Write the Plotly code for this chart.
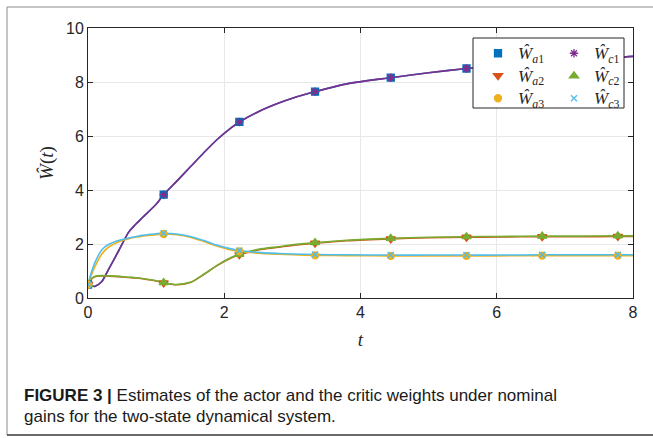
import plotly.graph_objects as go

# ---- data ----
t = [0, 0.05, 0.1, 0.2, 0.3, 0.45, 0.6, 0.7, 0.8, 1.0, 1.111, 1.3, 1.5, 1.7, 1.9, 2.1, 2.222,
     2.5, 2.8, 3.0, 3.333, 3.8, 4.444, 5.0, 5.556, 6.0, 6.667, 7.2, 7.778, 8.0]

Wa1 = [0.5, 0.45, 0.43, 0.6, 1.05, 1.75, 2.45, 2.73, 2.98, 3.47, 3.83, 4.32, 4.85, 5.38, 5.88, 6.3, 6.52,
       6.9, 7.22, 7.4, 7.64, 7.93, 8.16, 8.34, 8.5, 8.6, 8.73, 8.83, 8.91, 8.95]
Wc1 = [0.5, 0.45, 0.43, 0.6, 1.05, 1.75, 2.45, 2.73, 2.98, 3.47, 3.83, 4.32, 4.85, 5.38, 5.88, 6.3, 6.52,
       6.9, 7.22, 7.4, 7.64, 7.93, 8.16, 8.34, 8.5, 8.6, 8.73, 8.83, 8.91, 8.95]

Wa2 = [0.5, 0.7, 0.79, 0.82, 0.81, 0.79, 0.76, 0.74, 0.71, 0.63, 0.56, 0.49, 0.57, 0.87, 1.21, 1.48, 1.6,
       1.78, 1.88, 1.95, 2.03, 2.12, 2.19, 2.23, 2.25, 2.26, 2.27, 2.27, 2.28, 2.28]
Wc2 = [0.5, 0.72, 0.8, 0.83, 0.82, 0.8, 0.77, 0.75, 0.72, 0.64, 0.57, 0.5, 0.58, 0.88, 1.22, 1.5, 1.62,
       1.8, 1.9, 1.97, 2.05, 2.14, 2.21, 2.25, 2.27, 2.28, 2.29, 2.29, 2.3, 2.3]

Wa3 = [0.5, 0.85, 1.15, 1.62, 1.88, 2.08, 2.2, 2.25, 2.29, 2.34, 2.37, 2.34, 2.25, 2.09, 1.92, 1.78, 1.73,
       1.66, 1.62, 1.6, 1.58, 1.57, 1.56, 1.56, 1.56, 1.56, 1.57, 1.57, 1.57, 1.57]
Wc3 = [0.5, 0.95, 1.3, 1.78, 1.98, 2.13, 2.22, 2.27, 2.32, 2.38, 2.4, 2.37, 2.28, 2.13, 1.95, 1.82, 1.76,
       1.69, 1.65, 1.63, 1.61, 1.6, 1.59, 1.59, 1.59, 1.59, 1.6, 1.6, 1.6, 1.6]

marker_t = [0, 1.111, 2.222, 3.333, 4.444, 5.556, 6.667, 7.778]

names = ["<i>Ŵ</i><sub><i>a</i>1</sub>", "<i>Ŵ</i><sub><i>a</i>2</sub>", "<i>Ŵ</i><sub><i>a</i>3</sub>",
         "<i>Ŵ</i><sub><i>c</i>1</sub>", "<i>Ŵ</i><sub><i>c</i>2</sub>", "<i>Ŵ</i><sub><i>c</i>3</sub>"]

x_ticks = [0, 2, 4, 6, 8]
y_ticks = [0, 2, 4, 6, 8, 10]

# ---- styling ----
series = [
    (Wa1, names[0], "#0072BD", "square", 7, "legend"),
    (Wa2, names[1], "#D95319", "triangle-down", 8, "legend"),
    (Wa3, names[2], "#EDB120", "circle", 7, "legend"),
    (Wc1, names[3], "#7E2F8E", "asterisk-open", 7, "legend2"),
    (Wc2, names[4], "#77AC30", "triangle-up", 8, "legend2"),
    (Wc3, names[5], "#4DBEEE", "x-thin-open", 6, "legend2"),
]

idx = [t.index(m) for m in marker_t]

fig = go.Figure()
draw_order = [0, 3, 1, 4, 2, 5]
for k in draw_order:
    vals, name, col, sym, sz, lg = series[k]
    fig.add_trace(go.Scatter(x=t, y=vals, mode="lines", line=dict(color=col, width=1.6, shape="spline", smoothing=0.8),
                             showlegend=False, hoverinfo="skip"))
for k in draw_order:
    vals, name, col, sym, sz, lg = series[k]
    fig.add_trace(go.Scatter(x=[t[i] for i in idx], y=[vals[i] for i in idx], mode="markers",
                             name="<span style='font-size:17px'>" + name + "</span>",
                             marker=dict(color=col, symbol=sym, size=sz, line=dict(color=col, width=1.3)),
                             legend=lg, legendrank=k))

W, H = 653, 438
L, R, T, B = 88, 20, 28, 140
pw, ph = W - L - R, H - T - B

def px(x):
    return (x - L) / pw

def py(y):
    return (H - B - y) / ph

axis_common = dict(showline=True, linecolor="#262626", linewidth=1, mirror="ticks", ticks="inside", ticklen=5,
                   tickcolor="#262626", showgrid=True, gridcolor="#e8e8e8", gridwidth=1, zeroline=False,
                   tickfont=dict(family="Liberation Sans, Arial", size=16, color="#262626"))

leg_font = dict(family="Liberation Serif, serif", size=15, color="#262626")

fig.update_layout(
    width=W, height=H, margin=dict(l=L, r=R, t=T, b=B),
    paper_bgcolor="white", plot_bgcolor="white",
    xaxis=dict(range=[0, 8], tickvals=x_ticks, **axis_common,
               title=dict(text="<i>t</i>", font=dict(family="Liberation Serif, serif", size=19, color="#262626"), standoff=12)),
    yaxis=dict(range=[0, 10], tickvals=y_ticks, **axis_common,
               title=dict(text="<i>Ŵ</i>(<i>t</i>)", font=dict(family="Liberation Serif, serif", size=19, color="#262626"), standoff=7)),
    legend=dict(x=px(478), y=py(37), xanchor="left", yanchor="top", bgcolor="rgba(0,0,0,0)",
                font=leg_font, tracegroupgap=0, itemwidth=30),
    legend2=dict(x=px(554), y=py(37), xanchor="left", yanchor="top", bgcolor="rgba(0,0,0,0)",
                 font=leg_font, tracegroupgap=0, itemwidth=30),
    shapes=[
        dict(type="rect", xref="paper", yref="paper", x0=px(473), x1=px(624), y0=py(38), y1=py(108),
             fillcolor="white", line=dict(color="#262626", width=1), layer="above"),
        dict(type="line", xref="paper", yref="paper", x0=px(7), x1=px(660), y0=py(7), y1=py(7),
             line=dict(color="#8c8c8c", width=1)),
        dict(type="line", xref="paper", yref="paper", x0=px(7), x1=px(7), y0=py(7), y1=py(435),
             line=dict(color="#8c8c8c", width=1)),
        dict(type="line", xref="paper", yref="paper", x0=px(7), x1=px(660), y0=py(435), y1=py(435),
             line=dict(color="#3a3a3a", width=1.5)),
    ],
    annotations=[
        dict(xref="paper", yref="paper", x=px(22), y=py(395), xanchor="left", yanchor="middle", showarrow=False,
             text="<b>FIGURE 3 |</b> Estimates of the actor and the critic weights under nominal",
             font=dict(family="Liberation Sans, Arial", size=17, color="#1a1a1a")),
        dict(xref="paper", yref="paper", x=px(22), y=py(416), xanchor="left", yanchor="middle", showarrow=False,
             text="gains for the two-state dynamical system.",
             font=dict(family="Liberation Sans, Arial", size=17, color="#1a1a1a")),
    ],
)

fig.write_html("out.html", config={"displayModeBar": False},
               post_script="document.body.style.margin='0';document.body.style.overflow='hidden';")
